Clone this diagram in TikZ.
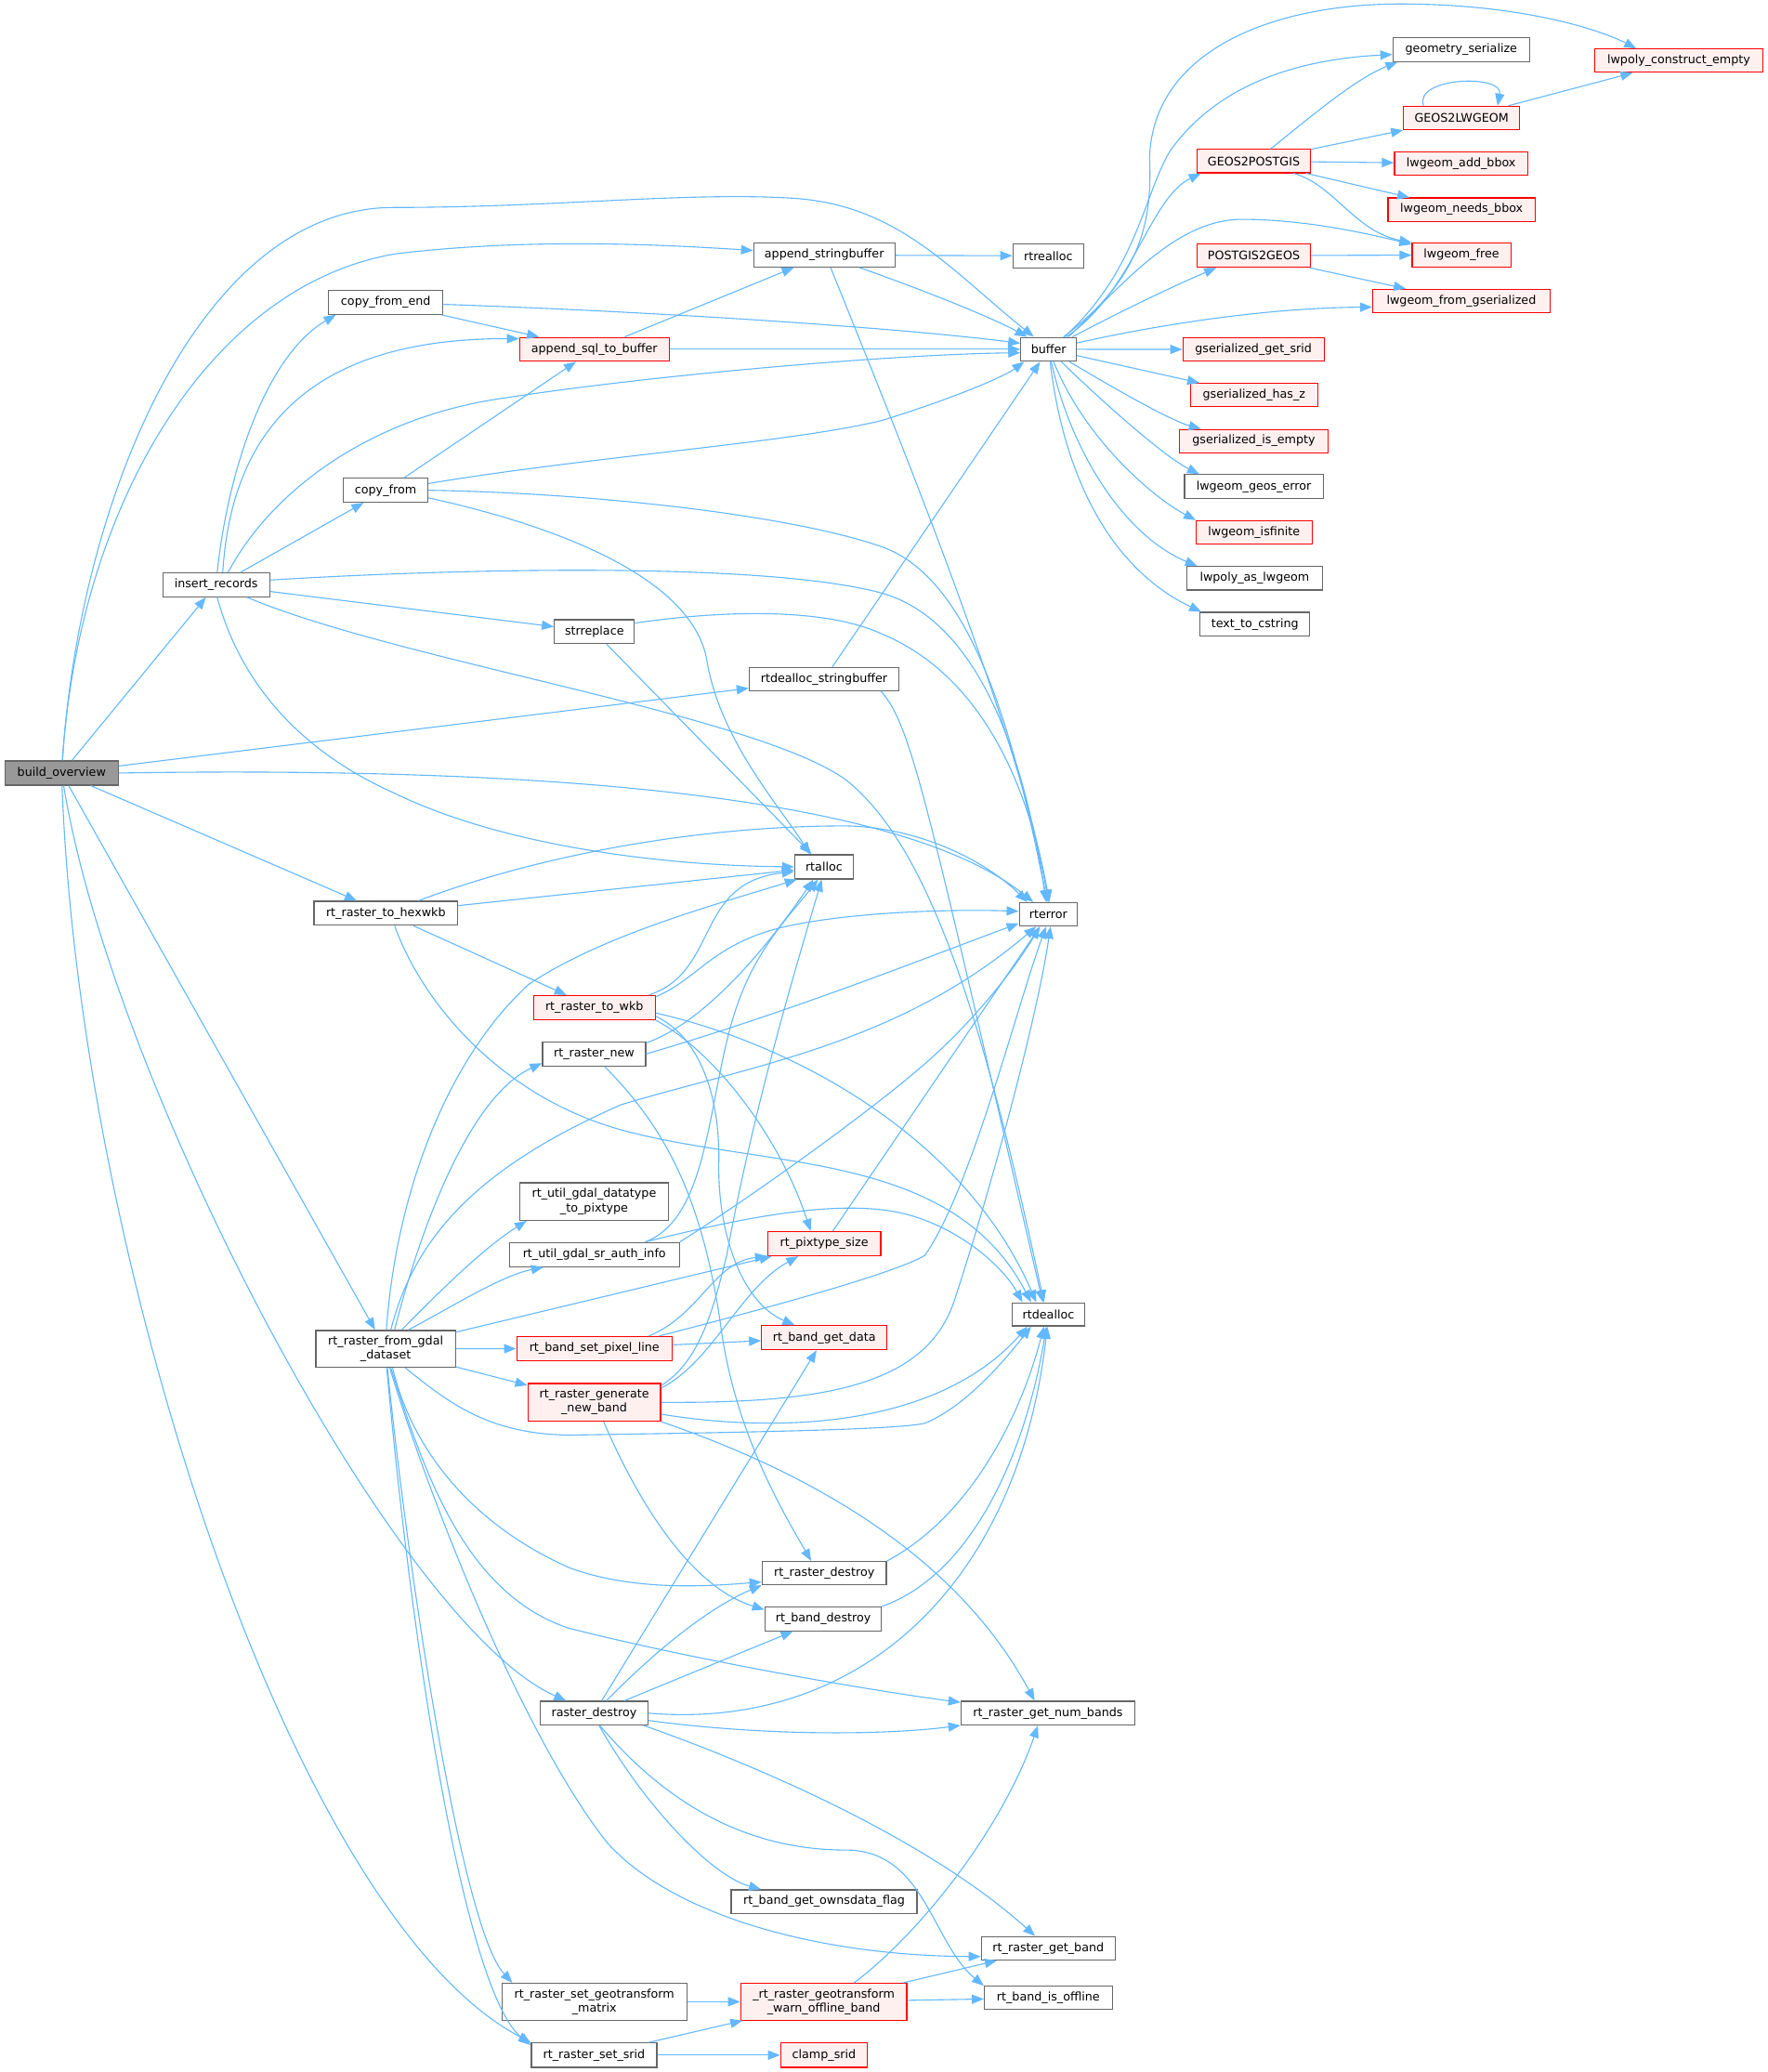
\documentclass[tikz,border=0pt]{standalone}
\usepackage{fontspec}
\setmainfont{DejaVu Sans}
\usetikzlibrary{arrows.meta}
\definecolor{edgec}{HTML}{63B8FF}
\definecolor{bordg}{HTML}{666666}
\definecolor{redb}{HTML}{FF0000}
\definecolor{redf}{HTML}{FFF0F0}
\definecolor{grayf}{HTML}{999999}
\newcommand\mknode[7]{\node[#1, minimum width=#5*1.4223pt, minimum height=#6*1.4223pt] (#2) at (#3,#4) {#7};}
\begin{document}
\begin{tikzpicture}[x=1.4223pt, y=-1.4223pt,
  nb/.style={draw=bordg, line width=1.2pt, fill=white, rectangle, inner sep=0pt, anchor=north west, align=center, font=\fontsize{12.7}{15.3}\selectfont},
  rb/.style={nb, draw=redb, fill=redf},
  gb/.style={nb, fill=grayf},
  lnk/.style={draw=edgec, line width=1.1pt, -{Triangle[length=13pt,width=10pt]}}]
\useasboundingbox[fill=white] (0,0) rectangle (1338,1568);
% ---------- nodes ----------
\mknode{gb}{bo}{3.4}{575.4}{85.6}{18.3}{build\_overview}
\mknode{nb}{ir}{122.7}{433.1}{80.9}{18}{insert\_records}
\mknode{nb}{cfe}{248.3}{219.4}{86.5}{18}{copy\_from\_end}
\mknode{nb}{cf}{259.4}{361.6}{64}{18}{copy\_from}
\mknode{nb}{asb}{570}{183.6}{106.8}{18}{append\_stringbuffer}
\mknode{rb}{asql}{392.8}{254.9}{113.2}{18}{append\_sql\_to\_buffer}
\mknode{nb}{rtrealloc}{766.2}{184.2}{53.5}{18}{rtrealloc}
\mknode{nb}{buf}{772.2}{254.9}{42}{18}{buffer}
\mknode{nb}{strrep}{419.2}{468.6}{60.5}{18}{strreplace}
\mknode{nb}{rds}{566.6}{504.7}{113.3}{17.5}{rtdealloc\_stringbuffer}
\mknode{nb}{rtalloc}{601}{646.4}{44.4}{18.3}{rtalloc}
\mknode{nb}{rterror}{771}{682.7}{44}{17.6}{rterror}
\mknode{nb}{hex}{237.3}{681.6}{108.6}{18.2}{rt\_raster\_to\_hexwkb}
\mknode{rb}{wkb}{403.4}{753}{92}{18.2}{rt\_raster\_to\_wkb}
\mknode{nb}{rnew}{410.2}{787.9}{78}{18.5}{rt\_raster\_new}
\mknode{nb}{dtp}{392.8}{894.6}{112.8}{28.4}{rt\_util\_gdal\_datatype\\\_to\_pixtype}
\mknode{nb}{sra}{385.1}{939.8}{128.6}{18.4}{rt\_util\_gdal\_sr\_auth\_info}
\mknode{rb}{pts}{580.6}{931.6}{85.6}{18.3}{rt\_pixtype\_size}
\mknode{nb}{rtdealloc}{765.4}{985.5}{55.3}{17.5}{rtdealloc}
\mknode{nb}{fgd}{238.6}{1006.4}{105.8}{27.9}{rt\_raster\_from\_gdal\\\_dataset}
\mknode{rb}{spl}{390.6}{1011}{117.6}{18.2}{rt\_band\_set\_pixel\_line}
\mknode{rb}{bgd}{576}{1002.8}{94.8}{18.2}{rt\_band\_get\_data}
\mknode{rb}{gnb}{399.1}{1046.6}{100.4}{28.4}{rt\_raster\_generate\\\_new\_band}
\mknode{nb}{rdes}{576.4}{1181.3}{94}{17.5}{rt\_raster\_destroy}
\mknode{nb}{bdes}{578.5}{1215.7}{88.2}{18}{rt\_band\_destroy}
\mknode{nb}{rdst}{408.5}{1287}{81.4}{18}{raster\_destroy}
\mknode{nb}{gnumb}{726.9}{1287}{131.6}{18}{rt\_raster\_get\_num\_bands}
\mknode{nb}{own}{552.9}{1429.7}{140.7}{17.7}{rt\_band\_get\_ownsdata\_flag}
\mknode{nb}{gband}{742.3}{1465.1}{101.3}{17.7}{rt\_raster\_get\_band}
\mknode{nb}{offl}{744.6}{1502.7}{96.7}{17.6}{rt\_band\_is\_offline}
\mknode{nb}{sgm}{379.5}{1500.5}{139.8}{27.8}{rt\_raster\_set\_geotransform\\\_matrix}
\mknode{rb}{wob}{560.2}{1500.5}{125.7}{27.8}{\_rt\_raster\_geotransform\\\_warn\_offline\_band}
\mknode{nb}{ssrid}{401.7}{1545.6}{95}{18.4}{rt\_raster\_set\_srid}
\mknode{rb}{clamp}{590.4}{1545.6}{65.6}{18.4}{clamp\_srid}
\mknode{nb}{gser}{1053.8}{28.2}{103.4}{17.9}{geometry\_serialize}
\mknode{rb}{lce}{1206.4}{36.7}{127.4}{17.6}{lwpoly\_construct\_empty}
\mknode{rb}{g2l}{1061.9}{80}{87.7}{17.9}{GEOS2LWGEOM}
\mknode{rb}{g2p}{905.5}{112.7}{85.9}{17.6}{GEOS2POSTGIS}
\mknode{rb}{lab}{1055}{114.6}{100.8}{17.4}{lwgeom\_add\_bbox}
\mknode{rb}{lnb}{1050}{149.4}{111.5}{17.6}{lwgeom\_needs\_bbox}
\mknode{rb}{lfree}{1068.3}{183.6}{74.7}{17.9}{lwgeom\_free}
\mknode{rb}{p2g}{905.5}{184.2}{85.9}{17.6}{POSTGIS2GEOS}
\mknode{rb}{lfg}{1038.5}{218.5}{134.1}{17.5}{lwgeom\_from\_gserialized}
\mknode{rb}{gsrid}{894.8}{255.2}{106.9}{17.6}{gserialized\_get\_srid}
\mknode{rb}{ghz}{900.4}{289.7}{96.6}{17.6}{gserialized\_has\_z}
\mknode{rb}{gie}{892.3}{324.5}{112.3}{17.6}{gserialized\_is\_empty}
\mknode{nb}{lge}{896}{358.8}{105}{18.2}{lwgeom\_geos\_error}
\mknode{rb}{lif}{904.7}{393.6}{88}{17.9}{lwgeom\_isfinite}
\mknode{nb}{lpal}{897.8}{428.4}{102.6}{17.6}{lwpoly\_as\_lwgeom}
\mknode{nb}{t2c}{907.8}{463}{83.1}{17.9}{text\_to\_cstring}
% ---------- build_overview ----------
\draw[lnk] (bo) .. controls (60,380) and (150,157) .. (298,157) .. controls (420,157) and (520,145) .. (600,150) .. controls (680,155) and (720,205) .. (buf.140);
\draw[lnk] (bo) .. controls (60,380) and (160,215) .. (300,192) .. controls (400,180) and (500,185) .. (asb);
\draw[lnk] (bo) -- (ir);
\draw[lnk] (bo) -- (rds);
\draw[lnk] (bo.east) .. controls (400,580) and (680,600) .. (rterror);
\draw[lnk] (bo) -- (hex);
\draw[lnk] (bo) -- (fgd);
\draw[lnk] (bo) .. controls (85,820) and (300,1230) .. (rdst);
\draw[lnk] (bo) .. controls (60,950) and (220,1450) .. (ssrid.north west);
% ---------- insert_records ----------
\draw[lnk] (ir.85) .. controls (172,360) and (200,270) .. (cfe.194);
\draw[lnk] (ir.62) .. controls (175,330) and (230,256) .. (asql.172);
\draw[lnk] (ir.46) .. controls (205,372) and (280,315) .. (383,301) .. controls (500,283) and (680,268) .. (buf.187);
\draw[lnk] (ir.27) -- (cf);
\draw[lnk] (ir.5) .. controls (350,430) and (580,425) .. (668,449) .. controls (740,470) and (775,570) .. (rterror.100);
\draw[lnk] (ir) -- (strrep);
\draw[lnk] (ir.-22) .. controls (300,500) and (570,540) .. (640,590) .. controls (710,645) and (750,800) .. (rtdealloc.110);
\draw[lnk] (ir.-85) .. controls (180,510) and (220,565) .. (298,600) .. controls (380,640) and (500,655) .. (rtalloc.west);
% ---------- copy_from_end / copy_from ----------
\draw[lnk] (cfe) -- (asql);
\draw[lnk] (cfe) .. controls (500,236) and (680,248) .. (buf.168);
\draw[lnk] (cf) -- (asql);
\draw[lnk] (cf.9) .. controls (450,345) and (600,335) .. (668,318) .. controls (720,302) and (760,285) .. (buf.207);
\draw[lnk] (cf.east) .. controls (450,373) and (600,390) .. (668,414) .. controls (740,440) and (770,570) .. (rterror.95);
\draw[lnk] (cf.-10) .. controls (430,400) and (525,440) .. (535,500) .. controls (545,560) and (590,610) .. (rtalloc.138);
% ---------- append_* ----------
\draw[lnk] (asql) -- (asb);
\draw[lnk] (asql) -- (buf);
\draw[lnk] (asb) -- (rtrealloc);
\draw[lnk] (asb) .. controls (700,220) and (750,240) .. (buf.150);
\draw[lnk] (asb.-63) .. controls (680,330) and (770,550) .. (rterror.85);
% ---------- buffer ----------
\draw[lnk] (buf.40) .. controls (865,210) and (872,165) .. (870,120) .. controls (872,40) and (960,3) .. (1060,3) .. controls (1150,3) and (1210,22) .. (lce.164);
\draw[lnk] (buf.38) .. controls (860,205) and (865,150) .. (885,115) .. controls (920,65) and (980,45) .. (gser.184);
\draw[lnk] (buf.35) .. controls (858,220) and (870,150) .. (g2p.193);
\draw[lnk] (buf.32) .. controls (850,215) and (890,166) .. (940,166) .. controls (990,166) and (1040,178) .. (lfree.168);
\draw[lnk] (buf) .. controls (840,240) and (880,220) .. (p2g.198);
\draw[lnk] (buf) .. controls (880,245) and (960,233) .. (lfg.184);
\draw[lnk] (buf) -- (gsrid);
\draw[lnk] (buf) -- (ghz);
\draw[lnk] (buf) .. controls (840,292) and (885,318) .. (gie.167);
\draw[lnk] (buf) .. controls (830,300) and (880,345) .. (lge.167);
\draw[lnk] (buf) .. controls (820,330) and (870,375) .. (lif.168);
\draw[lnk] (buf) .. controls (810,340) and (850,405) .. (lpal.168);
\draw[lnk] (buf) .. controls (805,360) and (840,430) .. (t2c.167);
% ---------- GEOS / POSTGIS ----------
\draw[lnk] (g2p.36) .. controls (990,90) and (1025,60) .. (gser.191);
\draw[lnk] (g2p) -- (g2l);
\draw[lnk] (g2p) -- (lab);
\draw[lnk] (g2p) -- (lnb);
\draw[lnk] (g2p.-17) .. controls (1010,140) and (1025,175) .. (lfree.north west);
\draw[lnk] (g2l.162) .. controls (1070,58) and (1138,56) .. (g2l.19);
\draw[lnk] (g2l) -- (lce);
\draw[lnk] (p2g) -- (lfree);
\draw[lnk] (p2g) -- (lfg);
% ---------- rtdealloc_stringbuffer / strreplace ----------
\draw[lnk] (rds) -- (buf);
\draw[lnk] (rds.-12) .. controls (690,550) and (700,600) .. (rtdealloc.115);
\draw[lnk] (strrep.12) .. controls (560,460) and (630,462) .. (668,480) .. controls (740,510) and (778,590) .. (rterror.90);
\draw[lnk] (strrep) -- (rtalloc);
% ---------- rt_raster_to_hexwkb ----------
\draw[lnk] (hex) -- (rtalloc);
\draw[lnk] (hex.21) .. controls (400,650) and (520,625) .. (640,625) .. controls (700,626) and (750,655) .. (rterror.150);
\draw[lnk] (hex) -- (wkb);
\draw[lnk] (hex.-55) .. controls (320,760) and (380,830) .. (470,855) .. controls (580,885) and (720,870) .. (rtdealloc.145);
% ---------- rt_raster_to_wkb ----------
\draw[lnk] (wkb.13) .. controls (545,735) and (525,668) .. (rtalloc.189);
\draw[lnk] (wkb.10) .. controls (530,740) and (540,712) .. (600,700) .. controls (650,690) and (720,688) .. (rterror.174);
\draw[lnk] (wkb.south east) .. controls (540,795) and (590,860) .. (pts.137);
\draw[lnk] (wkb.-8) .. controls (530,785) and (545,830) .. (544,880) .. controls (543,930) and (560,985) .. (bgd.157);
\draw[lnk] (wkb.-5) .. controls (600,790) and (730,860) .. (rtdealloc.135);
% ---------- rt_raster_new ----------
\draw[lnk] (rnew.12) .. controls (530,775) and (575,725) .. (rtalloc.-130);
\draw[lnk] (rnew.east) .. controls (600,765) and (700,725) .. (rterror.197);
\draw[lnk] (rnew.-50) .. controls (500,850) and (530,900) .. (545,1000) .. controls (555,1080) and (590,1140) .. (rdes.137);
% ---------- rt_util_gdal_sr_auth_info ----------
\draw[lnk] (sra.14) .. controls (540,920) and (535,820) .. (560,755) .. controls (575,715) and (600,690) .. (rtalloc.-115);
\draw[lnk] (sra.north east) .. controls (570,905) and (660,840) .. (700,805) .. controls (740,770) and (770,730) .. (rterror.-125);
\draw[lnk] (sra.14) .. controls (560,922) and (640,905) .. (690,920) .. controls (730,932) and (760,960) .. (rtdealloc.155);
% ---------- rt_pixtype_size / set_pixel_line ----------
\draw[lnk] (pts) -- (rterror);
\draw[lnk] (spl) -- (bgd);
\draw[lnk] (spl.13) .. controls (530,995) and (540,955) .. (pts.south west);
\draw[lnk] (spl.11) .. controls (600,985) and (680,962) .. (700,950) .. controls (735,900) and (770,760) .. (rterror.-100);
% ---------- rt_raster_generate_new_band ----------
\draw[lnk] (gnb.12) .. controls (540,1030) and (560,975) .. (pts.206);
\draw[lnk] (gnb.14) .. controls (530,1030) and (540,990) .. (550,950) .. controls (570,840) and (600,740) .. (rtalloc.-100);
\draw[lnk] (gnb.east) .. controls (620,1062) and (700,1050) .. (722,985) .. controls (750,900) and (785,770) .. (rterror.-80);
\draw[lnk] (gnb.-10) .. controls (590,1085) and (710,1080) .. (rtdealloc.210);
\draw[lnk] (gnb.south east) .. controls (600,1110) and (720,1170) .. (gnumb.137);
\draw[lnk] (gnb.-64) .. controls (480,1130) and (520,1200) .. (bdes.171);
% ---------- rt_raster_from_gdal_dataset ----------
\draw[lnk] (fgd.88) .. controls (300,900) and (340,800) .. (400,745) .. controls (455,708) and (540,685) .. (rtalloc.205);
\draw[lnk] (fgd.75) .. controls (315,930) and (370,880) .. (470,836) .. controls (570,806) and (680,790) .. (rterror.-135);
\draw[lnk] (fgd.65) .. controls (318,930) and (355,830) .. (rnew.190);
\draw[lnk] (fgd.50) .. controls (330,980) and (365,945) .. (dtp.196);
\draw[lnk] (fgd.40) .. controls (340,990) and (380,965) .. (sra.194);
\draw[lnk] (fgd) -- (pts);
\draw[lnk] (fgd) -- (spl);
\draw[lnk] (fgd) -- (gnb);
\draw[lnk] (fgd.-44) .. controls (340,1062) and (370,1085) .. (430,1086) .. controls (560,1084) and (680,1082) .. (700,1077) .. controls (730,1065) and (760,1030) .. (rtdealloc.215);
\draw[lnk] (fgd.-70) .. controls (310,1090) and (350,1150) .. (430,1186) .. controls (480,1205) and (540,1200) .. (rdes.188);
\draw[lnk] (fgd.-75) .. controls (320,1110) and (350,1205) .. (430,1232) .. controls (520,1255) and (650,1278) .. (gnumb.173);
\draw[lnk] (fgd.-78) .. controls (330,1150) and (400,1320) .. (460,1395) .. controls (510,1450) and (620,1480) .. (gband.187);
\draw[lnk] (fgd.-85) .. controls (310,1200) and (350,1460) .. (sgm.167);
\draw[lnk] (fgd.-87) .. controls (315,1280) and (355,1510) .. (ssrid.171);
% ---------- raster_destroy ----------
\draw[lnk] (rdst) -- (bgd);
\draw[lnk] (rdst.45) .. controls (500,1245) and (540,1215) .. (rdes.south west);
\draw[lnk] (rdst) -- (bdes);
\draw[lnk] (rdst.east) .. controls (650,1310) and (770,1200) .. (rtdealloc.-95);
\draw[lnk] (rdst) .. controls (580,1314) and (670,1313) .. (gnumb.188);
\draw[lnk] (rdst.-14) .. controls (570,1335) and (700,1390) .. (gband.137);
\draw[lnk] (rdst.-65) .. controls (500,1360) and (560,1400) .. (640,1400) .. controls (700,1400) and (705,1470) .. (offl.north west);
\draw[lnk] (rdst.-68) .. controls (490,1370) and (540,1420) .. (own.169);
% ---------- destroy helpers ----------
\draw[lnk] (rdes.north east) .. controls (730,1150) and (770,1080) .. (rtdealloc.-110);
\draw[lnk] (bdes.12) .. controls (740,1190) and (778,1090) .. (rtdealloc.-100);
% ---------- geotransform / srid ----------
\draw[lnk] (sgm) -- (wob);
\draw[lnk] (wob.32) .. controls (700,1460) and (760,1380) .. (gnumb.231);
\draw[lnk] (wob) -- (gband);
\draw[lnk] (wob) -- (offl);
\draw[lnk] (ssrid) -- (wob);
\draw[lnk] (ssrid) -- (clamp);
\end{tikzpicture}
\end{document}
